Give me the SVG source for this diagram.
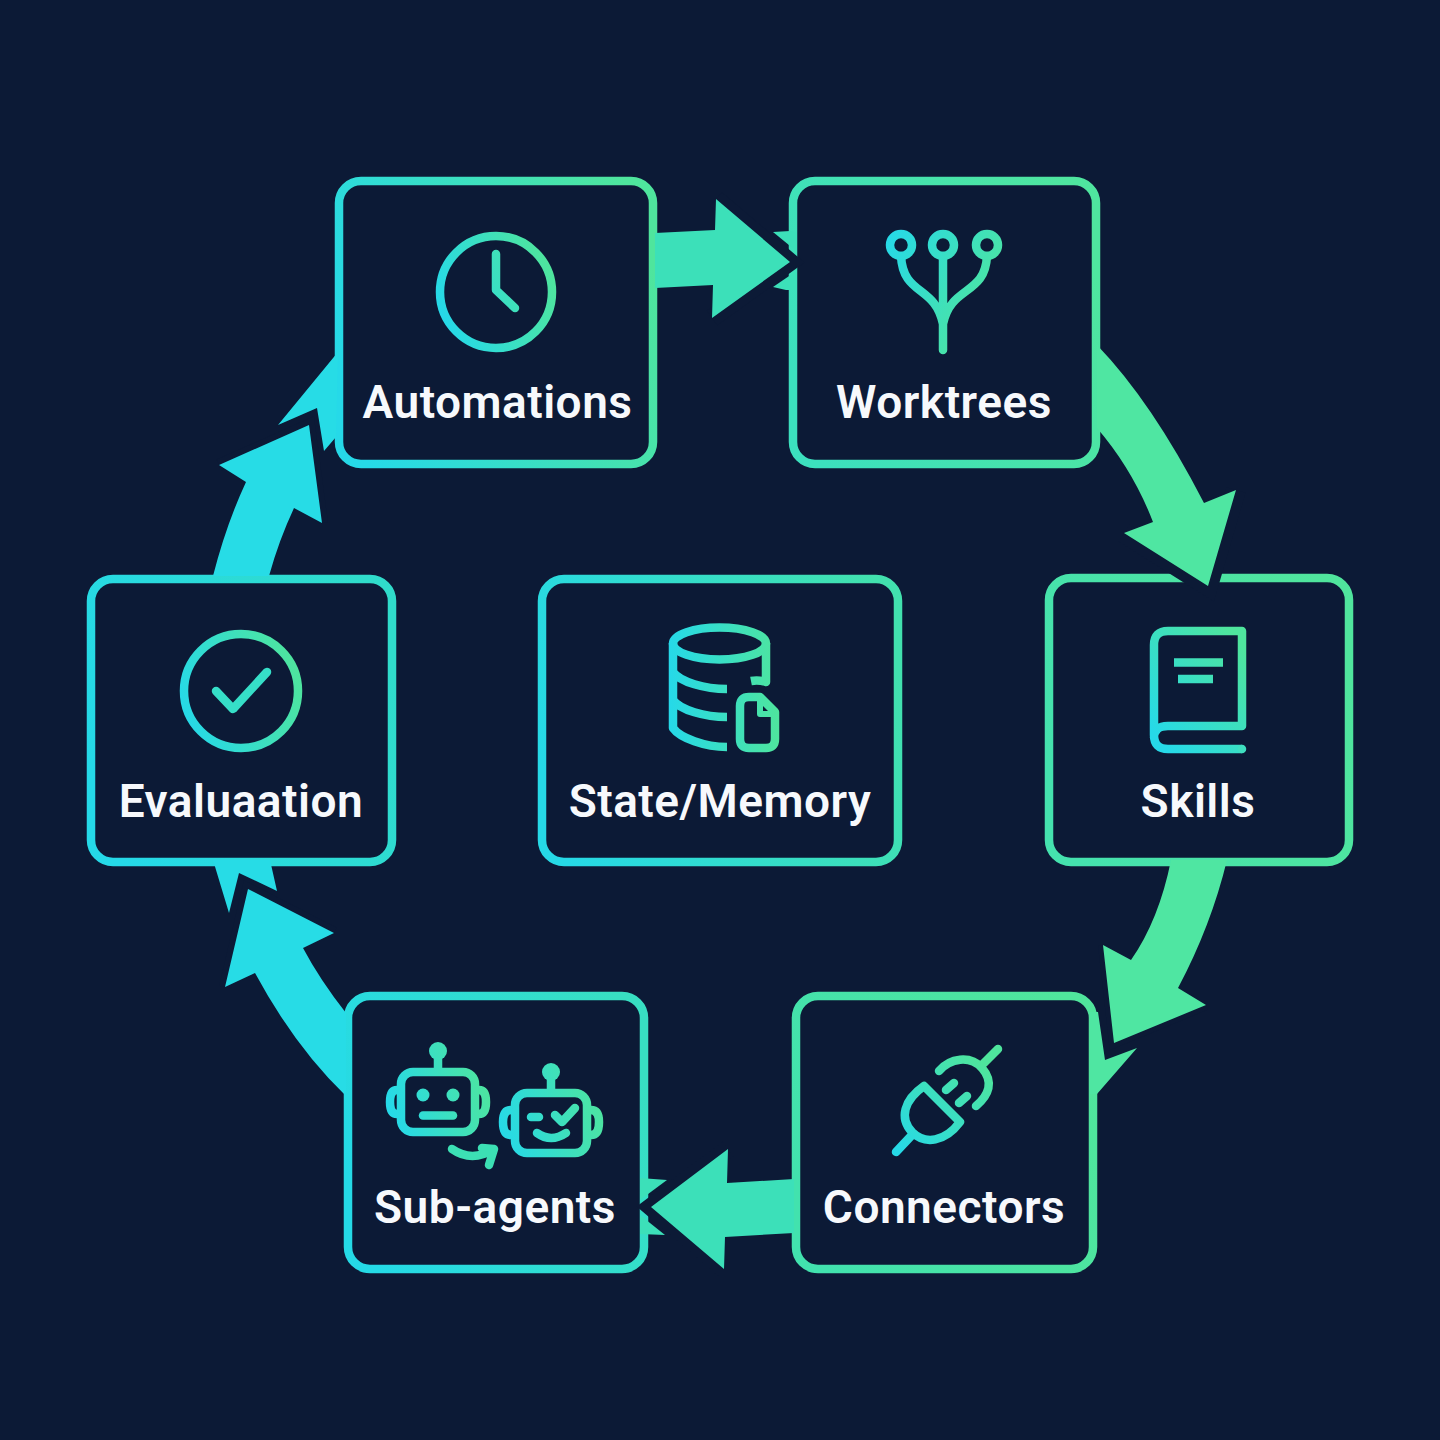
<svg xmlns="http://www.w3.org/2000/svg" width="1440" height="1440" viewBox="0 0 1440 1440">
<style>
.box{fill:#0c1a36;stroke-width:8.500}
.ic{fill:none;stroke-width:8.500;stroke-linecap:round;stroke-linejoin:round}
.icb{fill:none;stroke-width:8.500;stroke-linecap:butt;stroke-linejoin:round}
.lbl{font-family:Roboto,"Liberation Sans",sans-serif;font-size:46px;font-weight:600;letter-spacing:.5px;fill:#f7f9fc;text-anchor:middle}
.halo{fill:none;stroke:#0c1a36;stroke-linejoin:miter;stroke-miterlimit:10}
.cy{fill:#27dce6}.te{fill:#3ce0b9}.gr{fill:#4fe6a2}
</style>
<defs>
<linearGradient id="s"><stop offset="0" stop-color="#26d9e8"/><stop offset="1" stop-color="#4fe59d"/></linearGradient>
<linearGradient id="bA" href="#s" gradientUnits="userSpaceOnUse" x1="339" y1="370" x2="653" y2="270"/>
<linearGradient id="bW" gradientUnits="userSpaceOnUse" x1="793" y1="370" x2="1096" y2="270"><stop offset="0" stop-color="#3ce0be"/><stop offset="1" stop-color="#4fe59f"/></linearGradient>
<linearGradient id="bS" gradientUnits="userSpaceOnUse" x1="1049" y1="770" x2="1349" y2="670"><stop offset="0" stop-color="#45e2ae"/><stop offset="1" stop-color="#50e59d"/></linearGradient>
<linearGradient id="bC" gradientUnits="userSpaceOnUse" x1="796" y1="1180" x2="1093" y2="1080"><stop offset="0" stop-color="#42e2ae"/><stop offset="1" stop-color="#50e59c"/></linearGradient>
<linearGradient id="bU" gradientUnits="userSpaceOnUse" x1="348" y1="1180" x2="644" y2="1080"><stop offset="0" stop-color="#25dae6"/><stop offset="1" stop-color="#38dfc2"/></linearGradient>
<linearGradient id="bE" gradientUnits="userSpaceOnUse" x1="91" y1="770" x2="392" y2="670"><stop offset="0" stop-color="#25d9e8"/><stop offset="1" stop-color="#30dccb"/></linearGradient>
<linearGradient id="bM" gradientUnits="userSpaceOnUse" x1="542" y1="770" x2="898" y2="670"><stop offset="0" stop-color="#26d9e6"/><stop offset="1" stop-color="#42e1ae"/></linearGradient>
<linearGradient id="iA" href="#s" gradientUnits="userSpaceOnUse" x1="440" y1="310" x2="552" y2="270"/>
<linearGradient id="iW" href="#s" gradientUnits="userSpaceOnUse" x1="885" y1="240" x2="1000" y2="300"/>
<linearGradient id="iS" href="#s" gradientUnits="userSpaceOnUse" x1="1150" y1="730" x2="1246" y2="650"/>
<linearGradient id="iC" href="#s" gradientUnits="userSpaceOnUse" x1="895" y1="1150" x2="980" y2="1060"/>
<linearGradient id="iU" href="#s" gradientUnits="userSpaceOnUse" x1="390" y1="1110" x2="490" y2="1080"/>
<linearGradient id="iV" href="#s" gradientUnits="userSpaceOnUse" x1="500" y1="1130" x2="605" y2="1100"/>
<linearGradient id="iE" href="#s" gradientUnits="userSpaceOnUse" x1="182" y1="710" x2="300" y2="670"/>
<linearGradient id="iM" href="#s" gradientUnits="userSpaceOnUse" x1="670" y1="690" x2="780" y2="690"/>
</defs>
<rect width="1440" height="1440" fill="#0c1a36"/>

<g id="automations">
<rect class="box" x="339" y="181" width="314" height="283" rx="22" stroke="url(#bA)"/>
<g class="ic" stroke="url(#iA)"><circle cx="496" cy="292" r="56"/><path d="M496 254V290L515 308"/></g>
<text class="lbl" x="497.500" y="418">Automations</text>
</g>

<g id="worktrees">
<rect class="box" x="793" y="181" width="303" height="283" rx="22" stroke="url(#bW)"/>
<g class="ic" stroke="url(#iW)"><circle cx="901" cy="245" r="11"/><circle cx="943" cy="245" r="11"/><circle cx="987" cy="245" r="11"/>
<path d="M943 256V350M901 256C903 296 935 285 943 324M987 256C985 296 951 285 943 324"/></g>
<text class="lbl" x="944" y="418">Worktrees</text>
</g>

<g id="skills">
<rect class="box" x="1049" y="578" width="300" height="284" rx="22" stroke="url(#bS)"/>
<g class="icb" stroke="url(#iS)"><path d="M1242 749H1168Q1154 749 1154 735V645Q1154 631 1168 631H1242V726H1168Q1154 726 1154 738"/>
<path d="M1174 662.500H1223M1178 679H1213"/></g>
<circle cx="1242" cy="749" r="4.250" fill="#3fdfc0"/>
<text class="lbl" x="1198" y="817">Skills</text>
</g>

<g id="connectors">
<rect class="box" x="796" y="996" width="297" height="273" rx="22" stroke="url(#bC)"/>
<g class="ic" stroke="url(#iC)"><path d="M924 1086L960 1122C945 1142 925 1145 912 1132C899 1118 904 1100 924 1086Z"/><path d="M912 1135L896 1152M939 1071C950 1058 970 1055 982 1068C994 1082 989 1095 976 1106M984 1063L998 1049"/>
<path d="M946 1090L954 1083M959 1103L967 1096"/></g>
<text class="lbl" x="944" y="1223">Connectors</text>
</g>

<g id="sub-agents">
<rect class="box" x="348" y="996" width="296" height="273" rx="22" stroke="url(#bU)"/>
<g class="ic" stroke="url(#iU)"><rect x="401" y="1072" width="74" height="60" rx="12"/><path d="M438 1056V1070M397 1090Q390 1090 390 1102Q390 1114 397 1114M479 1090Q486 1090 486 1102Q486 1114 479 1114"/><path d="M423 1115.500H453"/></g>
<g fill="url(#iU)"><circle cx="438" cy="1051" r="9"/><circle cx="423" cy="1095" r="6.500"/><circle cx="453" cy="1095" r="6.500"/></g>
<g class="ic" stroke="url(#iV)"><rect x="515" y="1093" width="72" height="60" rx="12"/><path d="M551 1077V1091M511 1110Q503 1110 503 1122Q503 1135 511 1135M591 1110Q599 1110 599 1122Q599 1135 591 1135"/>
<path d="M531 1117H539M555 1115L562 1122L575 1108M537 1133Q551 1143 566 1133"/></g>
<circle cx="551" cy="1072" r="9" fill="url(#iV)"/>
<path class="ic" stroke="#3ce0b4" d="M452 1149Q472 1163 494 1149M482 1148L494 1149L489 1165"/>
<text class="lbl" x="495" y="1223">Sub-agents</text>
</g>

<g id="evaluation">
<rect class="box" x="91" y="579" width="301" height="283" rx="22" stroke="url(#bE)"/>
<g class="ic" stroke="url(#iE)"><circle cx="241" cy="691" r="57"/></g>
<path class="ic" stroke="#36dfc8" d="M216 691L233 709L267 672"/>
<text class="lbl" x="241" y="817">Evaluaation</text>
</g>

<g id="state-memory">
<rect class="box" x="542" y="579" width="356" height="283" rx="22" stroke="url(#bM)"/>
<g class="icb" stroke="url(#iM)"><ellipse cx="719.500" cy="643.500" rx="46.500" ry="16"/>
<path d="M673 643V728C680 738 705 747 727 747M673 672C680 682 705 689 727 689M673 700C680 710 705 717 727 717M766 643V682C760 680 756 680 751 681"/>
<path d="M749 697H760L775 712V739Q775 748 766 748H749Q740 748 740 739V706Q740 697 749 697Z"/><path d="M760 698V714H775" stroke-width="6"/></g>
<text class="lbl" x="720" y="817">State/Memory</text>
</g>

<g id="connector-lines">
<polygon class="te" points="773,232 790,231 797,232 797,250 795,250"/>
<polygon class="te" points="773,287 795,272 797,272 797,290 786,290"/>
<polyline class="halo" stroke-width="18" points="716,199 790,262 712,318"/>
<path class="te" d="M655 233L715 230L716 199L790 262L712 318L713 285L655 288Z"/>

<polyline class="halo" stroke-width="20" points="1236,490 1208,586 1124,533"/>
<path class="gr" d="M1097 345Q1152 402 1204 503L1236 490L1208 586L1124 533L1153 522Q1133 470 1097 428Z"/>

<polygon class="gr" points="1090,1012 1098,1012 1105,1060 1137,1048 1097,1094 1090,1094"/>
<polyline class="halo" stroke-width="10" points="1206,1005 1114,1043 1103,945"/>
<path class="gr" d="M1227 860Q1211 926 1178 988L1206 1005L1114 1043L1103 945L1131 960Q1159 920 1171 860Z"/>

<polygon class="te" points="640,1178 667,1180 640,1200"/>
<polygon class="te" points="640,1215 665,1235 640,1234"/>
<polyline class="halo" stroke-width="18" points="728,1149 651,1207 724,1269"/>
<path class="te" d="M794 1179L727 1183L728 1149L651 1207L724 1269L725 1237L794 1233Z"/>

<polygon class="cy" points="213,860 229,913 239,873 277,891 270,860"/>
<polyline class="halo" stroke-width="12" points="225,987 248,889 334,933"/>
<path class="cy" d="M346 1096Q295 1047 255 973L225 987L248 889L334 933L303 948Q320 980 346 1013Z"/>

<polygon class="cy" points="338,352 278,425 317,408 324,451 336,437"/>
<polyline class="halo" stroke-width="12" points="219,465 309,425 322,523"/>
<path class="cy" d="M213 576Q226 525 246 482L219 465L309 425L322 523L294 508Q279 540 269 576Z"/>
</g>
</svg>
